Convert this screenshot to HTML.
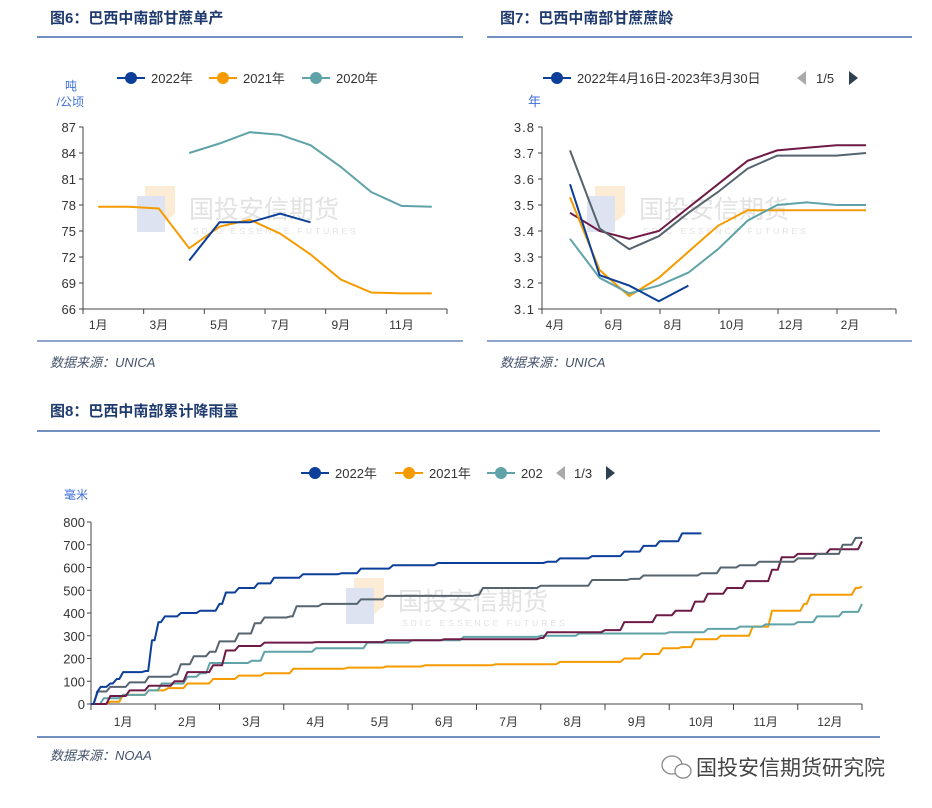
<!DOCTYPE html>
<html><head><meta charset="utf-8"><style>
body{margin:0;background:#fff;width:932px;height:808px;overflow:hidden;font-family:"Liberation Sans","Noto Sans CJK SC",sans-serif}
svg{position:absolute;left:0;top:0}
</style></head><body>
<svg id="s" width="932" height="808" xmlns="http://www.w3.org/2000/svg" font-family="Liberation Sans, Noto Sans CJK SC, sans-serif">
<g>
<text x="50" y="23" font-size="15" font-weight="bold" fill="#1f3a6e">图6：巴西中南部甘蔗单产</text>
<line x1="37" y1="37" x2="463" y2="37" stroke="#1f4e9a" stroke-width="1.2"/>
<text x="500" y="23" font-size="15" font-weight="bold" fill="#1f3a6e">图7：巴西中南部甘蔗蔗龄</text>
<line x1="487" y1="37" x2="912" y2="37" stroke="#1f4e9a" stroke-width="1.2"/>
<line x1="37" y1="341" x2="463" y2="341" stroke="#1f4e9a" stroke-width="1"/>
<line x1="487" y1="341" x2="912" y2="341" stroke="#1f4e9a" stroke-width="1"/>
<text x="50" y="367" font-size="13" font-style="italic" fill="#44526b">数据来源：UNICA</text>
<text x="500" y="367" font-size="13" font-style="italic" fill="#44526b">数据来源：UNICA</text>
<text x="50" y="416" font-size="15" font-weight="bold" fill="#1f3a6e">图8：巴西中南部累计降雨量</text>
<line x1="37" y1="431" x2="880" y2="431" stroke="#1f4e9a" stroke-width="1.2"/>
<line x1="37" y1="737" x2="880" y2="737" stroke="#1f4e9a" stroke-width="1.2"/>
<text x="50" y="760" font-size="13" font-style="italic" fill="#44526b">数据来源：NOAA</text>
<g>
<ellipse cx="672" cy="765" rx="10" ry="9" fill="none" stroke="#888" stroke-width="1.3"/>
<ellipse cx="683" cy="771" rx="8" ry="7" fill="#fff" stroke="#888" stroke-width="1.3"/>
<text x="696" y="775" font-size="21" fill="#444">国投安信期货研究院</text>
</g>
</g>
<g id="c6"></g>
<g id="c7"></g>
<g id="c8"></g>
</svg>
<script>
const NS="http://www.w3.org/2000/svg";
// ---- chart 6 data ----
const c6Months=["1月","3月","5月","7月","9月","11月"];
const c6Ticks=[66,69,72,75,78,81,84,87];
const c6y2022=[null,null,null,71.6,76.0,76.0,77.0,76.0,null,null,null,null];
const c6y2021=[77.8,77.8,77.6,73.0,75.5,76.3,74.7,72.3,69.4,67.9,67.8,67.8];
const c6y2020=[null,null,null,84.0,85.1,86.4,86.1,84.9,82.4,79.5,77.9,77.8];
// ---- chart 7 data ----
const c7Months=["4月","6月","8月","10月","12月","2月"];
const c7Ticks=[3.1,3.2,3.3,3.4,3.5,3.6,3.7,3.8];
const c7purple=[3.47,3.40,3.37,3.40,3.49,3.58,3.67,3.71,3.72,3.73,3.73];
const c7gray=[3.71,3.41,3.33,3.38,3.47,3.55,3.64,3.69,3.69,3.69,3.70];
const c7orange=[3.53,3.25,3.15,3.22,3.32,3.42,3.48,3.48,3.48,3.48,3.48];
const c7teal=[3.37,3.22,3.16,3.19,3.24,3.33,3.44,3.50,3.51,3.50,3.50];
const c7blue=[3.58,3.23,3.19,3.13,3.19];
// ---- chart 8 data ----
const c8Months=["1月","2月","3月","4月","5月","6月","7月","8月","9月","10月","11月","12月"];
const c8Ticks=[0,100,200,300,400,500,600,700,800];
const c8blue=[[0,0],[0.1,50],[0.15,75],[0.3,90],[0.4,110],[0.5,140],[0.85,145],[0.95,280],[1.05,360],[1.15,385],[1.4,400],[1.7,410],[2.0,440],[2.1,490],[2.3,510],[2.6,530],[2.85,555],[3.3,570],[3.9,575],[4.2,595],[4.7,610],[5.4,620],[7.1,625],[7.3,640],[7.8,650],[8.3,670],[8.6,695],[8.85,715],[9.2,750],[9.5,750]];
const c8gray=[[0,0],[0.1,55],[0.3,75],[0.6,95],[0.9,120],[1.3,130],[1.4,175],[1.6,210],[1.85,230],[2.0,275],[2.3,310],[2.55,355],[2.7,380],[3.1,385],[3.2,430],[3.6,440],[4.2,460],[4.6,475],[6.0,480],[6.1,510],[7.0,520],[7.8,545],[8.4,550],[8.6,565],[9.5,575],[9.8,600],[10.1,610],[10.4,625],[11.0,640],[11.3,660],[11.7,700],[11.9,730],[12,730]];
const c8purple=[[0,0],[0.3,35],[0.6,60],[0.9,80],[1.3,100],[1.5,140],[1.9,170],[2.1,235],[2.3,255],[2.7,270],[3.5,272],[4.6,280],[5.5,285],[7.0,290],[7.1,315],[8.0,325],[8.3,360],[8.8,390],[9.1,410],[9.4,450],[9.6,485],[9.9,510],[10.2,540],[10.6,590],[10.75,645],[11.0,660],[11.5,680],[12.0,715]];
const c8teal=[[0,0],[0.2,25],[0.5,40],[0.9,60],[1.1,90],[1.5,120],[1.7,135],[1.85,180],[2.5,190],[2.7,230],[3.5,245],[4.3,270],[5.0,280],[5.8,295],[7.0,300],[7.6,310],[9.0,315],[9.6,330],[10.1,340],[10.5,350],[11.0,360],[11.3,385],[11.7,405],[12.0,440]];
const c8orange=[[0,0],[0.3,10],[0.5,40],[0.9,60],[1.2,70],[1.5,90],[1.9,110],[2.3,125],[2.7,135],[3.15,155],[4.0,160],[4.6,165],[5.2,170],[6.3,175],[7.3,185],[8.3,200],[8.6,220],[8.9,245],[9.2,250],[9.4,285],[9.8,300],[10.3,340],[10.6,410],[11.1,440],[11.2,480],[11.9,510],[12,515]];

const COL={blue:"#0b3f99",orange:"#f59b00",teal:"#5fa3a8",purple:"#6e1a46",gray:"#56646f"};
function el(p,t,a,txt){const e=document.createElementNS(NS,t);for(const k in a)e.setAttribute(k,a[k]);if(txt!==undefined)e.textContent=txt;p.appendChild(e);return e;}
function pathOf(pts){let d="",pen=false;pts.forEach(p=>{if(p==null){pen=false;return;}d+=(pen?"L":"M")+p[0].toFixed(1)+","+p[1].toFixed(1);pen=true;});return d;}
function watermark(g,x,y){
  el(g,"rect",{x:x,y:y+10,width:28,height:36,fill:"#dde3f0"});
  el(g,"polygon",{points:`${x+8},${y} ${x+38},${y} ${x+38},${y+28} ${x+28},${y+36} ${x+28},${y+10} ${x+8},${y+10}`,fill:"#fcebd5"});
  el(g,"text",{x:x+52,y:y+32,"font-size":"25",fill:"#e2e2e2"},"国投安信期货");
  el(g,"text",{x:x+56,y:y+48,"font-size":"8.5",fill:"#e2e2e2","letter-spacing":"3"},"SDIC ESSENCE FUTURES");
}
function legendItem(g,x,y,c,label){
  el(g,"line",{x1:x,y1:y,x2:x+28,y2:y,stroke:c,"stroke-width":2});
  el(g,"circle",{cx:x+14,cy:y,r:6,fill:c});
  el(g,"text",{x:x+34,y:y+5,"font-size":"13",fill:"#333"},label);
}
// ---- chart 6 ----
(function(){
 const g=document.getElementById("c6");
 const x0=83,x1=447,yT=127,yB=309,vMin=66,vMax=87;
 const X=i=>x0+(x1-x0)/12*(i+0.5);
 const Y=v=>yB-(v-vMin)/(vMax-vMin)*(yB-yT);
 watermark(g,137,186);
 el(g,"line",{x1:x0,y1:yT,x2:x0,y2:yB,stroke:"#444"});
 el(g,"line",{x1:x0,y1:yB,x2:x1,y2:yB,stroke:"#444"});
 c6Ticks.forEach(v=>{el(g,"line",{x1:x0-4,y1:Y(v),x2:x0,y2:Y(v),stroke:"#444"});
  const t=el(g,"text",{x:x0-7,y:Y(v)+5,"font-size":"13","text-anchor":"end",fill:"#333"},String(v));
  });
 for(let k=0;k<=6;k++)el(g,"line",{x1:x0+(x1-x0)/6*k,y1:yB,x2:x0+(x1-x0)/6*k,y2:yB+5,stroke:"#444"});
 c6Months.forEach((m,k)=>{const t=el(g,"text",{x:X(2*k),y:yB+20,"font-size":"12","text-anchor":"middle",fill:"#333"},m);
  });
 el(g,"text",{x:77,y:90,"font-size":"12","text-anchor":"end",fill:"#3b6fd8"},"吨");
 el(g,"text",{x:84,y:106,"font-size":"12","text-anchor":"end",fill:"#3b6fd8"},"/公顷");
 [[c6y2020,COL.teal],[c6y2021,COL.orange],[c6y2022,COL.blue]].forEach(([a,c])=>{
  const p=el(g,"path",{d:pathOf(a.map((v,i)=>v==null?null:[X(i),Y(v)])),fill:"none",stroke:c,"stroke-width":2});
  });
 const lg=el(g,"g",{});
 
 legendItem(lg,117,78,COL.blue,"2022年");legendItem(lg,209,78,COL.orange,"2021年");legendItem(lg,302,78,COL.teal,"2020年");
})();
// ---- chart 7 ----
(function(){
 const g=document.getElementById("c7");
 const x0=542,x1=896,yT=127,yB=309,vMin=3.1,vMax=3.8;
 const X=i=>570+29.6*i;
 const Y=v=>yB-(v-vMin)/(vMax-vMin)*(yB-yT);
 watermark(g,587,186);
 el(g,"line",{x1:x0,y1:yT,x2:x0,y2:yB,stroke:"#444"});
 el(g,"line",{x1:x0,y1:yB,x2:x1,y2:yB,stroke:"#444"});
 c7Ticks.forEach(v=>{el(g,"line",{x1:x0-4,y1:Y(v),x2:x0,y2:Y(v),stroke:"#444"});
  const t=el(g,"text",{x:x0-7,y:Y(v)+5,"font-size":"13","text-anchor":"end",fill:"#333","letter-spacing":"1"},v.toFixed(1));
  });
 for(let k=0;k<=6;k++)el(g,"line",{x1:x0+(x1-x0)/6*k,y1:yB,x2:x0+(x1-x0)/6*k,y2:yB+5,stroke:"#444"});
 c7Months.forEach((m,k)=>{const t=el(g,"text",{x:x0+(x1-x0)/6*k+13,y:yB+20,"font-size":"12","text-anchor":"middle",fill:"#333"},m);
  });
 el(g,"text",{x:528,y:106,"font-size":"13",fill:"#3b6fd8"},"年");
 [[c7purple,COL.purple],[c7gray,COL.gray],[c7orange,COL.orange],[c7teal,COL.teal],[c7blue,COL.blue]].forEach(([a,c])=>{
  const p=el(g,"path",{d:pathOf(a.map((v,i)=>[X(i),Y(v)])),fill:"none",stroke:c,"stroke-width":2});
  });
 const lg=el(g,"g",{});
 
 legendItem(lg,543,78,COL.blue,"2022年4月16日-2023年3月30日");
 el(lg,"polygon",{points:"797,78 806,71 806,85",fill:"#aaa"});
 el(lg,"text",{x:816,y:83,"font-size":"13",fill:"#333"},"1/5");
 el(lg,"polygon",{points:"858,78 849,71 849,85",fill:"#2e4150"});
})();
// ---- chart 8 ----
(function(){
 const g=document.getElementById("c8");
 const x0=91,x1=862,yT=522,yB=704,vMin=0,vMax=800;
 const X=m=>x0+(x1-x0)/12*m;
 const Y=v=>yB-(v-vMin)/(vMax-vMin)*(yB-yT);
 watermark(g,346,578);
 el(g,"line",{x1:x0,y1:yT,x2:x0,y2:yB,stroke:"#444"});
 el(g,"line",{x1:x0,y1:yB,x2:x1,y2:yB,stroke:"#444"});
 c8Ticks.forEach(v=>{el(g,"line",{x1:x0-4,y1:Y(v),x2:x0,y2:Y(v),stroke:"#444"});
  const t=el(g,"text",{x:x0-6,y:Y(v)+5,"font-size":"13","text-anchor":"end",fill:"#333"},String(v));
  });
 for(let k=0;k<=12;k++)el(g,"line",{x1:X(k),y1:yB,x2:X(k),y2:yB+6,stroke:"#444"});
 c8Months.forEach((m,k)=>{const t=el(g,"text",{x:X(k+0.5),y:yB+22,"font-size":"12","text-anchor":"middle",fill:"#333"},m);
  });
 el(g,"text",{x:64,y:499,"font-size":"12",fill:"#3b6fd8"},"毫米");
 [[c8orange,COL.orange],[c8teal,COL.teal],[c8purple,COL.purple],[c8gray,COL.gray],[c8blue,COL.blue]].forEach(([a,c])=>{
  const pts=[];a.forEach((p,i)=>{if(i>0)pts.push([X(p[0]-0.06),Y(a[i-1][1])]);pts.push([X(p[0]),Y(p[1])]);});
  const p=el(g,"path",{d:pathOf(pts),fill:"none",stroke:c,"stroke-width":2,"stroke-linejoin":"round"});
  });
 const lg=el(g,"g",{});
 
 legendItem(lg,301,473,COL.blue,"2022年");legendItem(lg,395,473,COL.orange,"2021年");legendItem(lg,487,473,COL.teal,"202");
 el(lg,"polygon",{points:"556,473 565,466 565,480",fill:"#aaa"});
 el(lg,"text",{x:574,y:478,"font-size":"13",fill:"#333"},"1/3");
 el(lg,"polygon",{points:"615,473 606,466 606,480",fill:"#2e4150"});
})();
</script>
</body></html>
